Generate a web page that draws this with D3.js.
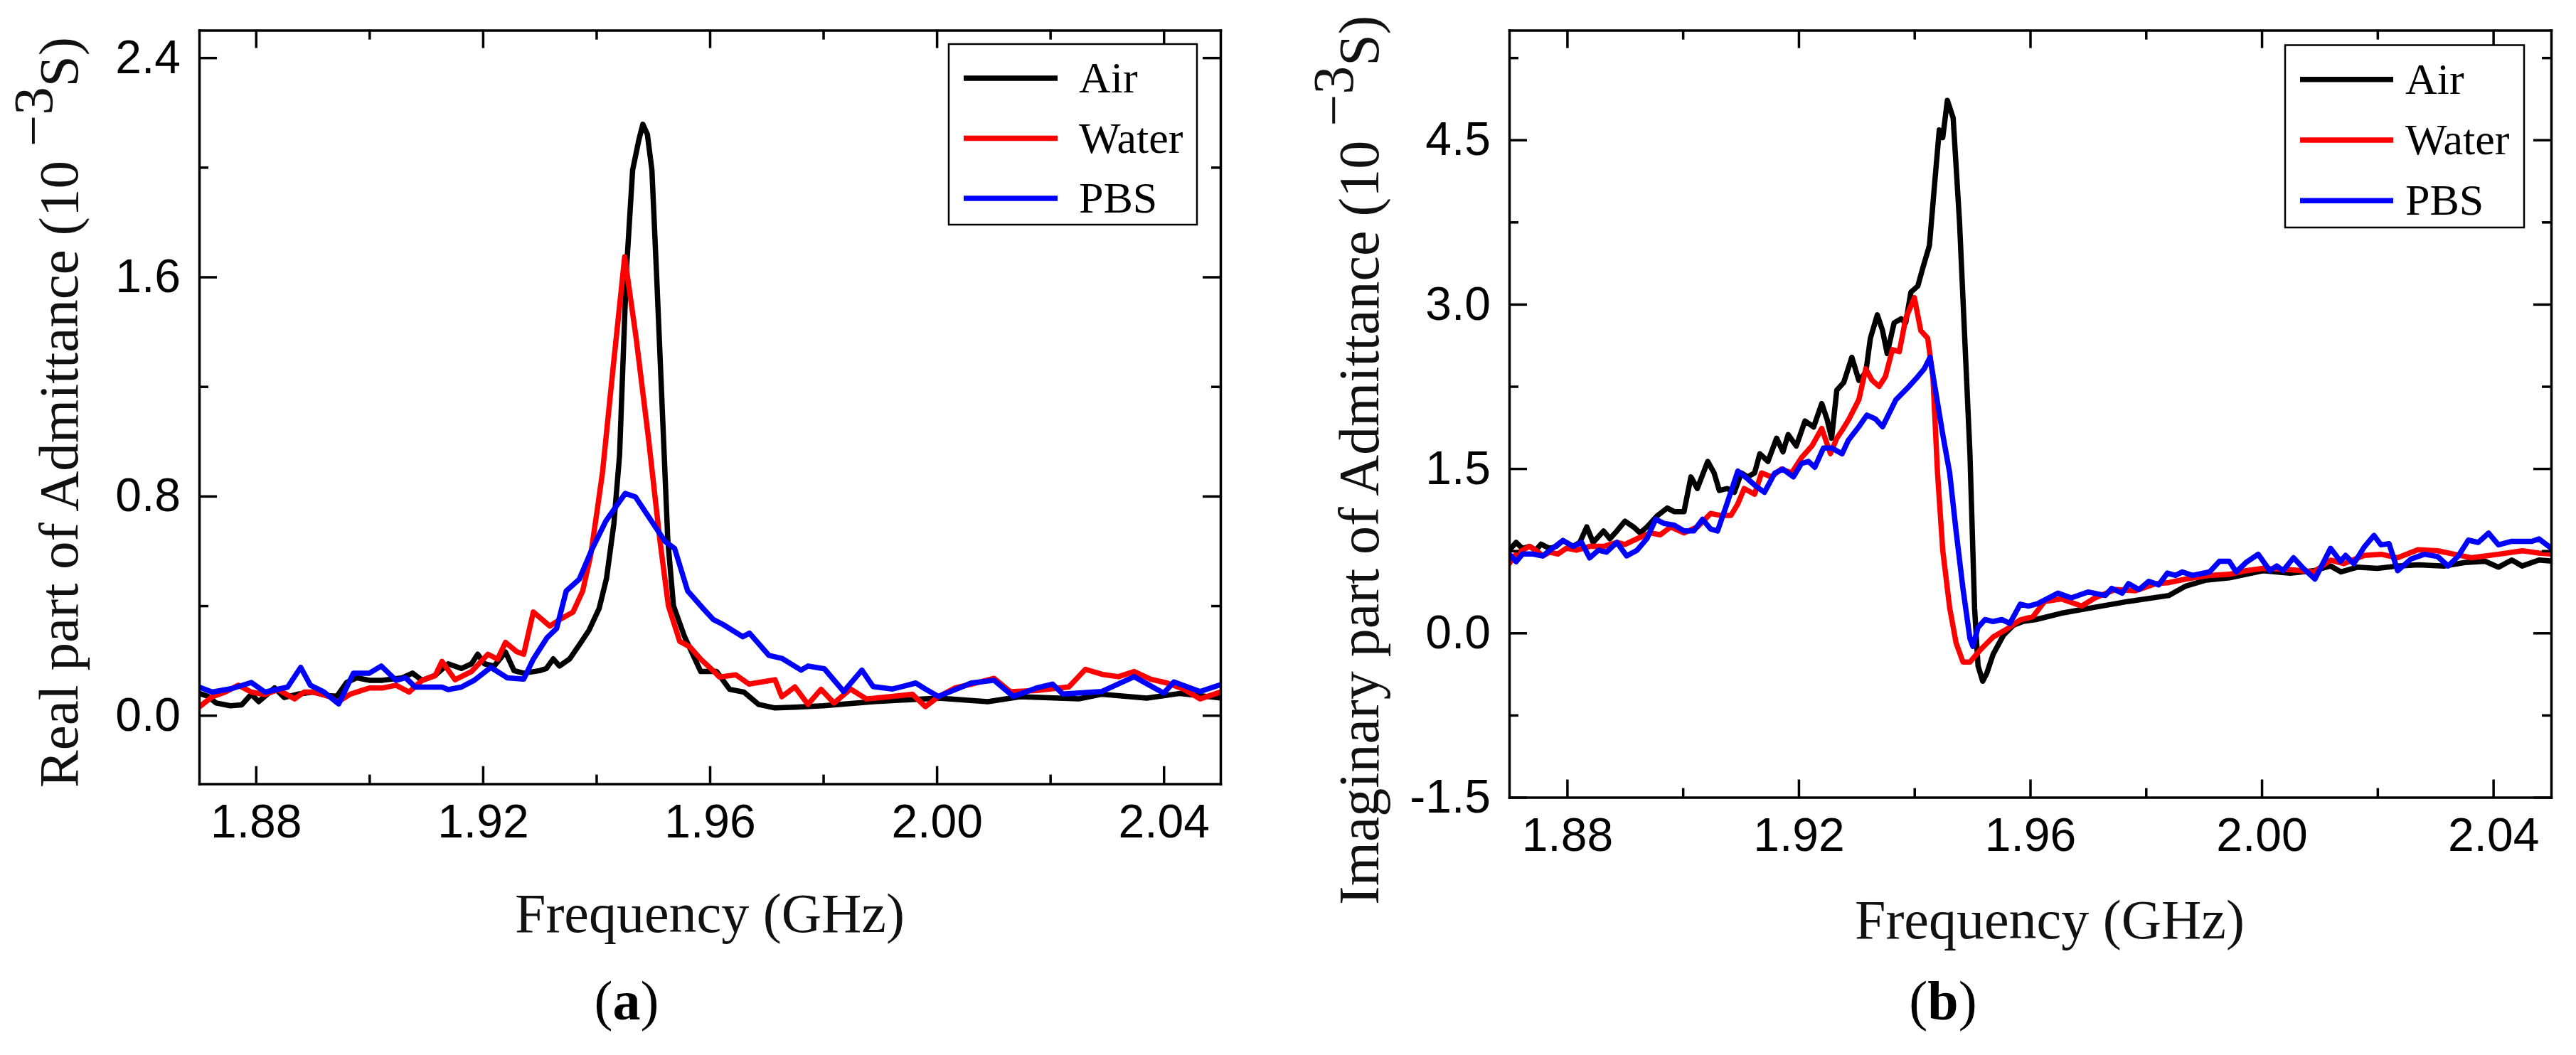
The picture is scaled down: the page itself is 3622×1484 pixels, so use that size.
<!DOCTYPE html>
<html><head><meta charset="utf-8">
<script src="https://cdn.jsdelivr.net/npm/d3@7"></script>
<style>body{margin:0;background:#fff}</style>
</head><body>
<svg id="c" width="3622" height="1484"></svg>
<script>
const seriesNames = ["Air", "Water", "PBS"];
const seriesColors = ["#000000", "#ff0000", "#0000ff"];
const freqDomain = [1.87, 2.05];
const freqMajor = [1.88, 1.92, 1.96, 2.00, 2.04];
const freqMinor = [1.90, 1.94, 1.98, 2.02];
const realDomain = [-0.25, 2.5];
const realMajor = [0, 0.8, 1.6, 2.4];
const realMinor = [0.4, 1.2, 2.0];
const imagDomain = [-1.5, 5.5];
const imagMajor = [-1.5, 0, 1.5, 3.0, 4.5];
const imagMinor = [-0.75, 0.75, 2.25, 3.75, 5.25];

// (a) real part [GHz, 1e-3 S]
const realAir = [[1.870,0.080],[1.8715,0.070],[1.873,0.045],[1.8755,0.035],[1.8775,0.038],[1.8792,0.077],[1.8805,0.050],[1.8833,0.100],[1.885,0.065],[1.8873,0.077],[1.890,0.085],[1.8925,0.072],[1.8943,0.070],[1.896,0.120],[1.8978,0.137],[1.900,0.128],[1.9023,0.128],[1.9058,0.137],[1.9076,0.154],[1.9093,0.128],[1.9116,0.146],[1.9139,0.188],[1.9162,0.171],[1.918,0.188],[1.9191,0.223],[1.9203,0.188],[1.922,0.180],[1.924,0.231],[1.9255,0.163],[1.9272,0.154],[1.930,0.163],[1.9312,0.171],[1.9324,0.206],[1.9335,0.180],[1.9353,0.206],[1.937,0.257],[1.9387,0.310],[1.9405,0.390],[1.9418,0.500],[1.9431,0.700],[1.9441,0.950],[1.9453,1.620],[1.9464,1.990],[1.9475,2.100],[1.9482,2.157],[1.949,2.120],[1.9498,1.990],[1.9506,1.620],[1.9516,1.130],[1.9526,0.640],[1.9536,0.400],[1.9555,0.290],[1.9584,0.160],[1.9612,0.160],[1.9635,0.095],[1.966,0.085],[1.9686,0.040],[1.9715,0.027],[1.975,0.030],[1.980,0.035],[1.9888,0.050],[2.0003,0.063],[2.009,0.050],[2.0147,0.068],[2.025,0.060],[2.029,0.077],[2.037,0.063],[2.0429,0.080],[2.0503,0.063]];
const realWater = [[1.870,0.030],[1.8723,0.068],[1.8746,0.085],[1.8769,0.110],[1.8792,0.085],[1.8816,0.076],[1.8839,0.094],[1.8868,0.060],[1.8885,0.085],[1.8902,0.085],[1.8931,0.068],[1.8943,0.047],[1.8966,0.077],[1.900,0.100],[1.9024,0.100],[1.9047,0.110],[1.907,0.085],[1.9093,0.128],[1.9116,0.145],[1.9128,0.197],[1.9151,0.130],[1.918,0.160],[1.9209,0.223],[1.9226,0.205],[1.924,0.266],[1.926,0.232],[1.9272,0.223],[1.9289,0.377],[1.9318,0.326],[1.9336,0.350],[1.9359,0.377],[1.9376,0.454],[1.939,0.583],[1.9402,0.755],[1.9411,0.888],[1.9429,1.256],[1.945,1.673],[1.947,1.380],[1.9492,1.010],[1.9512,0.640],[1.9527,0.400],[1.9547,0.270],[1.9565,0.250],[1.9584,0.205],[1.9606,0.163],[1.9617,0.140],[1.9646,0.148],[1.9669,0.114],[1.9715,0.130],[1.9727,0.068],[1.975,0.104],[1.9773,0.040],[1.9796,0.095],[1.9819,0.045],[1.9848,0.096],[1.9876,0.060],[1.9917,0.068],[1.9957,0.077],[1.998,0.032],[2.0003,0.068],[2.0032,0.100],[2.0061,0.114],[2.0101,0.135],[2.013,0.086],[2.0176,0.091],[2.0233,0.104],[2.0262,0.168],[2.0291,0.150],[2.032,0.141],[2.0348,0.160],[2.0377,0.132],[2.0406,0.118],[2.0435,0.096],[2.0464,0.060],[2.0503,0.087]];
const realPBS = [[1.870,0.103],[1.8723,0.085],[1.8758,0.098],[1.8792,0.120],[1.8816,0.085],[1.8856,0.103],[1.8879,0.175],[1.8896,0.110],[1.892,0.085],[1.8946,0.042],[1.8972,0.154],[1.900,0.154],[1.9021,0.180],[1.9047,0.128],[1.9064,0.137],[1.9081,0.103],[1.9128,0.103],[1.9139,0.094],[1.9162,0.103],[1.9185,0.128],[1.9214,0.175],[1.9243,0.137],[1.9272,0.132],[1.9289,0.205],[1.9313,0.283],[1.933,0.317],[1.9347,0.454],[1.937,0.497],[1.9393,0.609],[1.9417,0.710],[1.9451,0.810],[1.9469,0.797],[1.9497,0.710],[1.9521,0.635],[1.9538,0.609],[1.9561,0.454],[1.959,0.386],[1.9606,0.350],[1.9623,0.332],[1.9658,0.287],[1.967,0.300],[1.9704,0.219],[1.9727,0.208],[1.9761,0.165],[1.9773,0.180],[1.9802,0.170],[1.9836,0.087],[1.9868,0.165],[1.9888,0.105],[1.9922,0.096],[1.9963,0.118],[1.998,0.096],[2.0003,0.069],[2.0061,0.118],[2.0101,0.128],[2.0135,0.069],[2.0176,0.100],[2.0204,0.114],[2.0222,0.078],[2.0291,0.087],[2.0348,0.141],[2.040,0.081],[2.0418,0.122],[2.0464,0.087],[2.0503,0.114]];

// (b) imaginary part [GHz, 1e-3 S]
const imagAir = [[1.870,0.755],[1.8712,0.826],[1.8723,0.770],[1.8735,0.790],[1.8746,0.755],[1.8755,0.810],[1.877,0.770],[1.8781,0.790],[1.8793,0.843],[1.881,0.790],[1.8822,0.826],[1.8834,0.967],[1.8845,0.826],[1.8863,0.930],[1.8874,0.860],[1.8886,0.930],[1.890,1.020],[1.8915,0.967],[1.8926,0.913],[1.8938,0.967],[1.8956,1.070],[1.8973,1.140],[1.8985,1.107],[1.9002,1.107],[1.9014,1.424],[1.9025,1.318],[1.9043,1.565],[1.9054,1.460],[1.9063,1.300],[1.9077,1.318],[1.9089,1.283],[1.9101,1.460],[1.9112,1.424],[1.9124,1.460],[1.9133,1.635],[1.9147,1.565],[1.9162,1.777],[1.9173,1.653],[1.9182,1.810],[1.9196,1.706],[1.9211,1.934],[1.9226,1.880],[1.924,2.093],[1.9249,1.952],[1.9257,1.777],[1.9266,2.216],[1.9278,2.286],[1.9292,2.516],[1.9304,2.305],[1.9316,2.375],[1.9324,2.690],[1.9336,2.903],[1.9345,2.760],[1.9353,2.550],[1.9365,2.830],[1.9377,2.867],[1.9385,2.830],[1.9394,3.110],[1.9406,3.167],[1.9414,3.320],[1.9426,3.536],[1.9435,4.100],[1.9443,4.590],[1.9449,4.520],[1.9457,4.860],[1.9467,4.700],[1.9478,3.750],[1.9487,2.690],[1.9496,1.636],[1.9504,0.228],[1.951,-0.300],[1.9518,-0.440],[1.9525,-0.370],[1.9536,-0.195],[1.9554,-0.020],[1.9571,0.070],[1.9588,0.105],[1.961,0.122],[1.9654,0.180],[1.9712,0.235],[1.977,0.288],[1.984,0.342],[1.9869,0.428],[1.9904,0.482],[1.9944,0.503],[2.0002,0.568],[2.0049,0.546],[2.009,0.568],[2.0119,0.611],[2.0137,0.557],[2.0165,0.600],[2.020,0.589],[2.0235,0.611],[2.027,0.621],[2.0316,0.611],[2.0351,0.643],[2.0386,0.654],[2.0409,0.600],[2.0432,0.665],[2.045,0.611],[2.0479,0.665],[2.0506,0.654]];
const imagWater = [[1.870,0.632],[1.8712,0.720],[1.8723,0.755],[1.8735,0.790],[1.8746,0.755],[1.8758,0.703],[1.877,0.737],[1.8784,0.720],[1.8799,0.773],[1.8816,0.755],[1.8839,0.790],[1.8863,0.790],[1.8886,0.826],[1.890,0.808],[1.8921,0.860],[1.8944,0.913],[1.8961,0.896],[1.8979,0.967],[1.9002,0.913],[1.9025,0.967],[1.9048,1.090],[1.9066,1.072],[1.9083,1.072],[1.9095,1.178],[1.9106,1.318],[1.9124,1.266],[1.9136,1.460],[1.9153,1.424],[1.917,1.495],[1.9188,1.460],[1.9205,1.600],[1.9223,1.706],[1.924,1.866],[1.9255,1.636],[1.9266,1.777],[1.9275,1.848],[1.9287,1.952],[1.9304,2.128],[1.9316,2.410],[1.9327,2.305],[1.9339,2.250],[1.935,2.340],[1.9362,2.585],[1.9374,2.567],[1.9385,2.870],[1.940,3.060],[1.9411,2.760],[1.9423,2.690],[1.9432,2.340],[1.944,1.460],[1.9449,0.755],[1.9461,0.228],[1.9472,-0.090],[1.9484,-0.266],[1.9496,-0.266],[1.9513,-0.160],[1.9536,-0.037],[1.9559,0.033],[1.9583,0.120],[1.9605,0.149],[1.9625,0.288],[1.9654,0.310],[1.9689,0.245],[1.9712,0.320],[1.9747,0.396],[1.9782,0.385],[1.9817,0.450],[1.984,0.460],[1.9869,0.492],[1.991,0.525],[1.9944,0.535],[1.9973,0.568],[2.0002,0.589],[2.0049,0.578],[2.009,0.557],[2.0119,0.664],[2.0142,0.632],[2.0177,0.707],[2.0206,0.718],[2.0235,0.686],[2.027,0.760],[2.0304,0.750],[2.0333,0.718],[2.0363,0.686],[2.0409,0.718],[2.045,0.750],[2.0479,0.729],[2.0506,0.718]];
const imagPBS = [[1.870,0.720],[1.8712,0.650],[1.8723,0.720],[1.8741,0.720],[1.8758,0.703],[1.8775,0.773],[1.8793,0.843],[1.881,0.790],[1.8825,0.826],[1.8839,0.685],[1.8854,0.755],[1.8868,0.737],[1.8886,0.826],[1.8903,0.703],[1.8921,0.755],[1.8938,0.861],[1.8953,1.037],[1.8967,1.000],[1.8985,0.984],[1.9002,0.931],[1.9019,0.931],[1.9034,1.037],[1.9048,0.949],[1.906,0.931],[1.9075,1.160],[1.9095,1.477],[1.9112,1.406],[1.9127,1.336],[1.9141,1.283],[1.9159,1.460],[1.9173,1.495],[1.9191,1.424],[1.9205,1.547],[1.9217,1.565],[1.9228,1.512],[1.9243,1.688],[1.9257,1.688],[1.9275,1.635],[1.9286,1.759],[1.9304,1.882],[1.9318,1.988],[1.9333,1.952],[1.9345,1.882],[1.9368,2.128],[1.9391,2.251],[1.9406,2.340],[1.9417,2.410],[1.9427,2.515],[1.9437,2.198],[1.9449,1.811],[1.9461,1.460],[1.9472,0.931],[1.9484,0.403],[1.9496,-0.051],[1.9501,-0.122],[1.951,0.051],[1.9522,0.122],[1.9536,0.104],[1.9551,0.122],[1.9565,0.087],[1.9583,0.263],[1.9597,0.245],[1.9613,0.267],[1.9648,0.363],[1.9671,0.320],[1.970,0.374],[1.973,0.342],[1.9741,0.407],[1.9759,0.363],[1.977,0.450],[1.9788,0.396],[1.9805,0.471],[1.9822,0.439],[1.9837,0.546],[1.9851,0.525],[1.9863,0.557],[1.988,0.525],[1.991,0.557],[1.9927,0.654],[1.9944,0.654],[1.9956,0.557],[1.9973,0.643],[1.9994,0.718],[2.0014,0.568],[2.0026,0.611],[2.0037,0.568],[2.0055,0.686],[2.0072,0.589],[2.0092,0.492],[2.0119,0.772],[2.0136,0.654],[2.0145,0.707],[2.0159,0.632],[2.0177,0.783],[2.0194,0.890],[2.0206,0.804],[2.022,0.815],[2.0235,0.568],[2.0258,0.675],[2.0281,0.718],[2.0304,0.697],[2.0322,0.611],[2.0339,0.697],[2.0357,0.847],[2.0374,0.826],[2.0392,0.911],[2.0409,0.804],[2.0432,0.836],[2.0467,0.836],[2.0479,0.858],[2.0506,0.750]];

const SANS = "'Liberation Sans', Arial, sans-serif";
const SERIF = "'Liberation Serif', 'Times New Roman', serif";
const svg = d3.select("#c");
svg.append("rect").attr("width", 3622).attr("height", 1484).attr("fill", "#fff");
const defs = svg.append("defs");

function panel(o) {
  const x = d3.scaleLinear().domain(freqDomain).range([o.left, o.right]);
  const y = d3.scaleLinear().domain(o.yDomain).range([o.bottom, o.top]);
  const g = svg.append("g");
  const clipId = "clip" + o.id;
  defs.append("clipPath").attr("id", clipId).append("rect")
    .attr("x", o.left).attr("y", o.top).attr("width", o.right - o.left).attr("height", o.bottom - o.top);

  const line = d3.line().x(d => x(d[0])).y(d => y(d[1]));
  o.series.forEach((s, i) => {
    g.append("path").datum(s).attr("d", line)
      .attr("fill", "none").attr("stroke", seriesColors[i]).attr("stroke-width", 7.5)
      .attr("stroke-linejoin", "round").attr("stroke-linecap", "round")
      .attr("clip-path", `url(#${clipId})`);
  });

  const MAJ = 25, MIN = 13;
  const specs = [
    [() => d3.axisBottom(x), `translate(0,${o.bottom})`, freqMajor, freqMinor, d => d.toFixed(2), 29],
    [() => d3.axisTop(x), `translate(0,${o.top})`, freqMajor, freqMinor, null, 0],
    [() => d3.axisLeft(y), `translate(${o.left},0)`, o.yMajor, o.yMinor, d => d.toFixed(1), 26],
    [() => d3.axisRight(y), `translate(${o.right},0)`, o.yMajor, o.yMinor, null, 0],
  ];
  specs.forEach(([mk, tr, maj, min, fmt, pad]) => {
    const aMin = mk().tickValues(min).tickSizeInner(-MIN).tickSizeOuter(0).tickFormat("");
    const gm = g.append("g").attr("transform", tr).call(aMin);
    gm.select(".domain").remove();
    const aMaj = mk().tickValues(maj).tickSizeInner(-MAJ).tickSizeOuter(0).tickPadding(pad)
      .tickFormat(fmt ? fmt : "");
    const ga = g.append("g").attr("transform", tr).call(aMaj);
    ga.select(".domain").attr("stroke", "#000").attr("stroke-width", 3.5).attr("stroke-linecap", "square");
    ga.selectAll("text").attr("font-family", SANS).attr("font-size", 66).attr("fill", "#000");
    [ga, gm].forEach(s => s.selectAll(".tick line").attr("stroke", "#000").attr("stroke-width", 3.5));
  });

  // x title
  g.append("text").attr("x", o.xTitleX).attr("y", o.xTitleY).attr("text-anchor", "middle")
    .attr("font-family", SERIF).attr("font-size", 78).attr("fill", "#111").text("Frequency (GHz)");
  // y title
  const t = g.append("text").attr("transform", `translate(${o.yTitleX},${o.yTitleY}) rotate(-90)`)
    .attr("text-anchor", o.yTitleAnchor).attr("font-family", SERIF).attr("font-size", o.yTitleSize)
    .attr("fill", "#111").style("white-space", "pre");
  t.append("tspan").text(o.yTitle + " (10 ");
  t.append("tspan").attr("dy", "-0.45em").text("\u22123");
  t.append("tspan").attr("dy", "0.45em").text("S)");

  // panel label
  const c = g.append("text").attr("x", o.capX).attr("y", 1434).attr("text-anchor", "middle")
    .attr("font-family", SERIF).attr("font-size", 78).attr("fill", "#000");
  c.append("tspan").text("(");
  c.append("tspan").attr("font-weight", "bold").text(o.cap);
  c.append("tspan").text(")");

  // legend
  const L = o.legend;
  g.append("rect").attr("x", L.x0).attr("y", L.y0).attr("width", L.x1 - L.x0).attr("height", L.y1 - L.y0)
    .attr("fill", "#fff").attr("stroke", "#000").attr("stroke-width", 2.5);
  seriesNames.forEach((n, i) => {
    const yy = L.lineY + i * L.step;
    g.append("line").attr("x1", L.lx0).attr("x2", L.lx1).attr("y1", yy).attr("y2", yy)
      .attr("stroke", seriesColors[i]).attr("stroke-width", 7.5);
    g.append("text").attr("x", L.tx).attr("y", yy + 20).attr("font-family", SERIF)
      .attr("font-size", 62).attr("fill", "#000").text(n);
  });
}

panel({
  id: "a", left: 280, right: 1716, top: 42.6, bottom: 1102.6,
  yDomain: realDomain, yMajor: realMajor, yMinor: realMinor,
  series: [realAir, realWater, realPBS],
  xTitleX: 998, xTitleY: 1311,
  yTitle: "Real part of Admittance", yTitleX: 109, yTitleY: 580, yTitleAnchor: "middle", yTitleSize: 79,
  cap: "a", capX: 881,
  legend: {x0: 1334, x1: 1683, y0: 62, y1: 316, lx0: 1355, lx1: 1487, lineY: 110, step: 84.5, tx: 1517}
});
panel({
  id: "b", left: 2122, right: 3587, top: 42.6, bottom: 1121.5,
  yDomain: imagDomain, yMajor: imagMajor, yMinor: imagMinor,
  series: [imagAir, imagWater, imagPBS],
  xTitleX: 2882, xTitleY: 1320,
  yTitle: "Imaginary part of Admittance", yTitleX: 1938, yTitleY: 1273, yTitleAnchor: "start", yTitleSize: 80,
  cap: "b", capX: 2732,
  legend: {x0: 3213, x1: 3549, y0: 63.5, y1: 320, lx0: 3234, lx1: 3365, lineY: 111.7, step: 85.3, tx: 3382}
});
</script>
</body></html>
